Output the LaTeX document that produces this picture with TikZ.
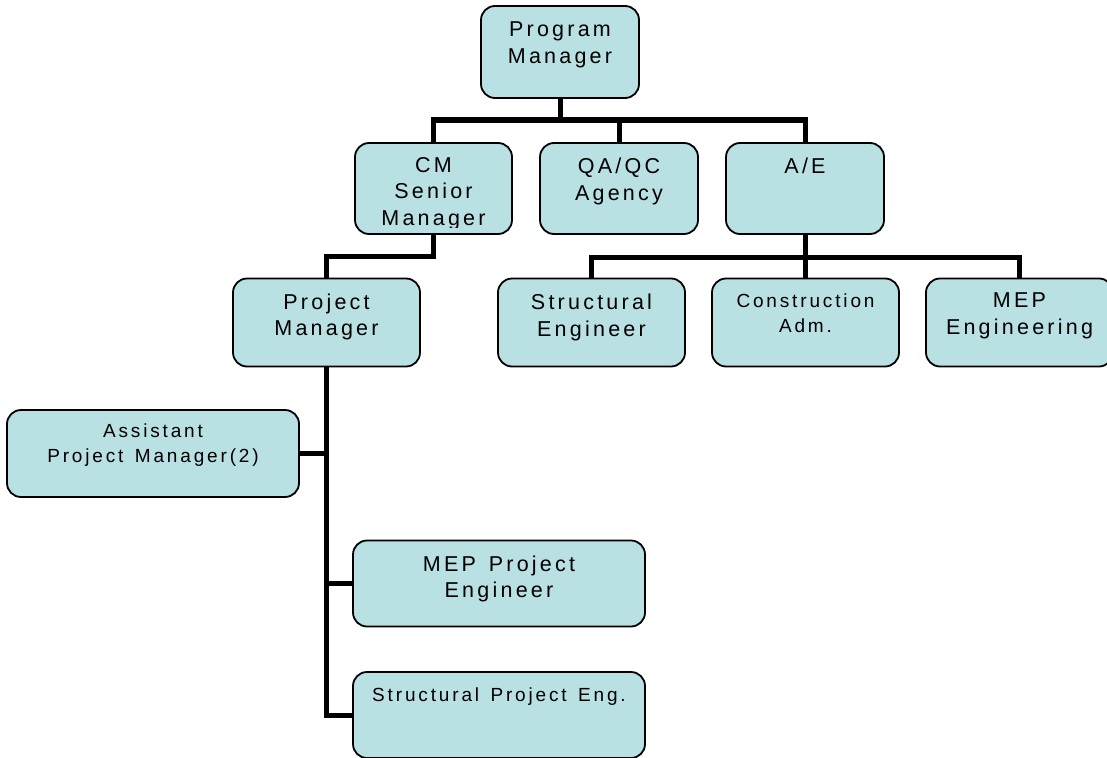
\documentclass[tikz,border=0pt]{standalone}
\usepackage{fontspec}
\setmainfont{Liberation Sans}
\newfontfamily\bigfont[LetterSpace=15,WordSpace=1.4]{Liberation Sans}
\newfontfamily\smallfont[LetterSpace=15,WordSpace=1.4]{Liberation Sans}
\definecolor{boxfill}{RGB}{185,224,227}

\begin{document}
\begin{tikzpicture}[x=1pt,y=-1pt,
    box/.style={draw,line width=1.8pt,fill=boxfill,rounded corners=14pt,inner sep=0pt},
    link/.style={line width=5pt},
    big/.style={anchor=north,align=center,inner sep=0pt,font=\fontsize{21.5}{26.5}\bigfont},
    small/.style={anchor=north,align=center,inner sep=0pt,font=\fontsize{19}{25}\smallfont}]
            \useasboundingbox (0,0) rectangle (1107,757);
            % boxes
            \node[box,minimum width=158pt,minimum height=92pt] (prog) at (560,52) {};
            \node[box,minimum width=157pt,minimum height=91pt] (cm) at (433.5,188.5) {};
            \node[box,minimum width=158pt,minimum height=91pt] (qa) at (619,188.5) {};
            \node[box,minimum width=158pt,minimum height=91pt] (ae) at (805,188.5) {};
            \node[box,minimum width=187pt,minimum height=88pt] (pm) at (326.5,322.5) {};
            \node[box,minimum width=187pt,minimum height=88pt] (se) at (591.5,322.5) {};
            \node[box,minimum width=187pt,minimum height=88pt] (ca) at (805.5,322.5) {};
            \node[box,minimum width=187pt,minimum height=88pt] (mep) at (1019.5,322.5) {};
            \node[box,minimum width=292pt,minimum height=87pt] (apm) at (153,453.5) {};
            \node[box,minimum width=292pt,minimum height=86pt] (mpe) at (499,583.5) {};
            \node[box,minimum width=292pt,minimum height=86pt] (spe) at (499,715) {};
            % connectors
            \coordinate (top) at (560,120);
            \coordinate (aej) at (805,257);
            \draw[link] (prog.south) -- (top);
            \draw[link] (cm.north) |- (top) -| (ae.north);
            \draw[link] (qa.north) -- (qa.north |- top);
            \draw[link] (cm.south) -- ++(0,21.5) -| (pm.north);
            \draw[link] (ae.south) -- (aej);
            \draw[link] (se.north) |- (aej) -| (mep.north);
            \draw[link] (aej) -- (aej |- ca.north);
            \draw[link] (pm.south) |- (spe.west);
            \draw[link] (apm.east) -- (apm.east -| pm.south);
            \draw[link] (mpe.west) -- (mpe.west -| pm.south);
            % texts
            \node[big] (prog-t) at (560,21.6) {Program\\Manager};
            \begin{scope}
                \clip[rounded corners=14pt] ([yshift=-1pt]cm.north west) rectangle ([yshift=7pt]cm.south east);
                \node[big] (cm-t) at (433.5,156.9) {CM\\Senior\\Manager};
            \end{scope}
            \node[big] (qa-t) at (619,157.9) {QA/QC\\Agency};
            \node[big] (ae-t) at (805,157.9) {A/E};
            \node[big] (pm-t) at (326.5,293.6) {Project\\Manager};
            \node[big] (se-t) at (591.5,293.9) {Structural\\Engineer};
            \node[small] (ca-t) at (805.5,293.4) {Construction\\Adm.};
            \node[big] (mep-t) at (1019.5,292.6) {MEP\\Engineering};
            \node[small] (apm-t) at (153,423.4) {Assistant\\Project Manager(2)};
            \node[big] (mpe-t) at (499,555.6) {MEP Project\\Engineer};
            \node[small] (spe-t) at (499,687.4) {Structural Project Eng.};
\end{tikzpicture}
\end{document}
